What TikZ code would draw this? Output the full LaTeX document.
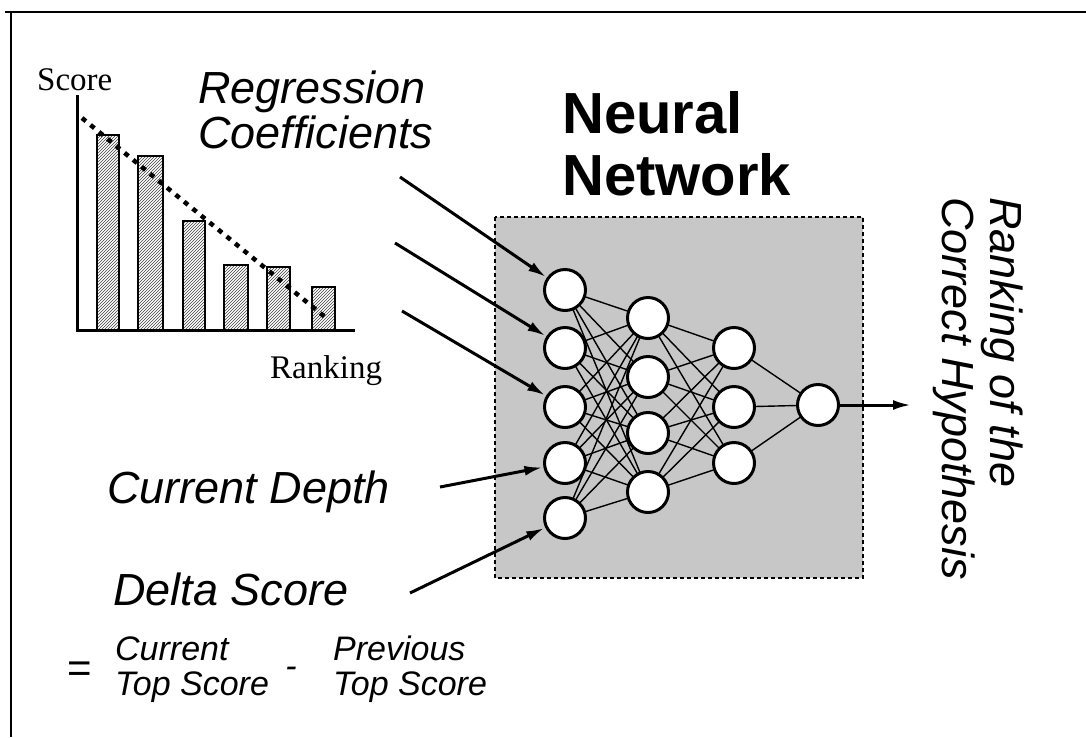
\documentclass[tikz,border=0pt]{standalone}
\usepackage{fontspec}
\setmainfont{Liberation Sans}
\newfontfamily\serifft{Liberation Serif}
\usetikzlibrary{arrows.meta,patterns}

\tikzset{
  neuron/.style={circle, draw=black, fill=white, line width=3pt, minimum size=41pt, inner sep=0pt},
  wire/.style={line width=1.4pt},
  feed/.style={line width=3pt, -{Latex[length=18pt,width=10pt]}, shorten >=1pt},
  bar/.style={draw=black, line width=2.5pt, pattern=north east lines, pattern color=black!75},
  axis/.style={line width=3pt},
  lbl/.style={font=\fontsize{45}{45}\selectfont\itshape, inner sep=0pt, anchor=base west},
  small/.style={font=\fontsize{34}{34}\selectfont\itshape, inner sep=0pt, anchor=base west},
  chartlbl/.style={font=\fontsize{33}{33}\selectfont\serifft, inner sep=0pt, anchor=base west},
  title/.style={font=\fontsize{58}{58}\selectfont\bfseries, inner sep=0pt, anchor=base west},
}

\begin{document}
\begin{tikzpicture}[x=1pt, y=-1pt]
\useasboundingbox (0,0) rectangle (1086,737);

% outer frame (top and left edges)
\draw[line width=2.5pt] (5,12) -- (1086,12);
\draw[line width=2.5pt] (11,12) -- (11,737);

% score chart
\draw[bar] (97,330) rectangle (119,135);
\draw[bar] (138,330) rectangle (163,156);
\draw[bar] (183,330) rectangle (205,221);
\draw[bar] (224,330) rectangle (248,265);
\draw[bar] (267,330) rectangle (290,267);
\draw[bar] (312,330) rectangle (335,287);
\draw[axis] (77,95) -- (77,330) -- (355,330);
\draw[line width=4.5pt, dash pattern=on 5pt off 6pt] (82,118) -- (325,317);
\node[chartlbl] (score) at (37,90) {Score};
\node[chartlbl] (rank) at (270,378) {Ranking};

% network panel
\draw[fill=black!22, line width=2.5pt, dash pattern=on 4pt off 3pt] (495,217) rectangle (863,578);
\node[title] (nn1) at (562,133) {Neural};
\node[title] (nn2) at (562,195) {Network};

% neuron positions (placed first so the wires can refer to them)
\foreach \i/\y in {1/290,2/348,3/407,4/463,5/518} \coordinate (a\i) at (565,\y);
\foreach \i/\y in {1/318,2/377,3/433,4/492} \coordinate (b\i) at (648,\y);
\foreach \i/\y in {1/348,2/407,3/463} \coordinate (c\i) at (734,\y);
\coordinate (o0) at (818,405);

% connections between layers
\foreach \i in {1,...,5} \foreach \j in {1,...,4} \draw[wire] (a\i) -- (b\j);
\foreach \i in {1,...,4} \foreach \j in {1,...,3} \draw[wire] (b\i) -- (c\j);
\foreach \j in {1,...,3} \draw[wire] (c\j) -- (o0);

% neurons drawn above the wires
\foreach \i in {1,...,5} \node[neuron] (na\i) at (a\i) {};
\foreach \i in {1,...,4} \node[neuron] (nb\i) at (b\i) {};
\foreach \i in {1,...,3} \node[neuron] (nc\i) at (c\i) {};
\node[neuron] (out) at (o0) {};

% input labels
\node[lbl] (reg1) at (198,103) {Regression};
\node[lbl] (reg2) at (198,148) {Coefficients};
\node[lbl] (depth) at (107,503) {Current Depth};
\node[lbl] (delta) at (113,605) {Delta Score};
\node[font=\fontsize{42}{42}\selectfont, inner sep=0pt] (eq) at (80,672) {=};
\node[small] (cur1) at (115,660) {Current};
\node[small] (cur2) at (115,695) {Top Score};
\node[font=\fontsize{34}{34}\selectfont\itshape, inner sep=0pt] (minus) at (291,672) {-};
\node[small] (prev1) at (333,660) {Previous};
\node[small] (prev2) at (333,695) {Top Score};

% input arrows
\coordinate (s1) at (400,177);
\coordinate (s2) at (395,243);
\coordinate (s3) at (402,311);
\coordinate (s4) at (440,487);
\coordinate (s5) at (410,593);
\draw[feed] (s1) -- (na1);
\draw[feed] (s2) -- (na2);
\draw[feed] (s3) -- (na3);
\draw[feed] (s4) -- (na4);
\draw[feed] (s5) -- (na5);

% output
\coordinate (tip) at (912,405);
\draw[feed] (out) -- (tip);
\node[lbl, rotate=-90] (res1) at (990,197) {Ranking of the};
\node[lbl, rotate=-90] (res2) at (942,197) {Correct Hypothesis};
\end{tikzpicture}
\end{document}
